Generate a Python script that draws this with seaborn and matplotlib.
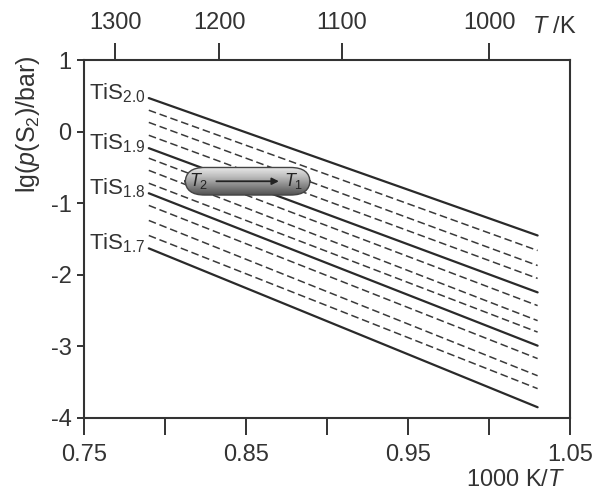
import numpy as np
import pandas as pd
import matplotlib
matplotlib.use("Agg")
import matplotlib.pyplot as plt
import seaborn as sns
from matplotlib.patches import FancyBboxPatch

# isobars (lg p(S2) at the two ends of each line)
x_ends = [0.79, 1.03]
compositions = ["2.0", "1.975", "1.95", "1.925", "1.9", "1.875", "1.85", "1.825",
                "1.8", "1.775", "1.75", "1.725", "1.7"]
y_left = [0.47, 0.30, 0.13, -0.05, -0.23, -0.37, -0.54, -0.72,
          -0.86, -1.03, -1.24, -1.45, -1.63]
y_right = [-1.45, -1.66, -1.87, -2.05, -2.245, -2.43, -2.64, -2.80,
           -2.99, -3.17, -3.41, -3.59, -3.85]
labelled = ["2.0", "1.9", "1.8", "1.7"]

x_ticks = [0.75, 0.80, 0.85, 0.90, 0.95, 1.00, 1.05]
x_ticklabels = ["0.75", "", "0.85", "", "0.95", "", "1.05"]
y_ticks = [1, 0, -1, -2, -3, -4]
T_ticks = [1300, 1200, 1100, 1000]

sns.set_theme(style="ticks")
plt.rcParams['font.family'] = ['Liberation Sans', 'DejaVu Sans']
plt.rcParams['mathtext.fontset'] = 'custom'
plt.rcParams['mathtext.rm'] = 'Liberation Sans'
plt.rcParams['mathtext.it'] = 'Liberation Sans:italic'
txt = '#333333'
plt.rcParams['text.color'] = txt
plt.rcParams['axes.labelcolor'] = txt
plt.rcParams['xtick.color'] = txt
plt.rcParams['ytick.color'] = txt

fig = plt.figure(figsize=(5.97, 4.97), dpi=100)
ax = fig.add_axes([0.1407, 0.159, 0.8141, 0.720])

rows = []
for c, yl, yr in zip(compositions, y_left, y_right):
    rows.append({"comp": c, "x": x_ends[0], "y": yl})
    rows.append({"comp": c, "x": x_ends[1], "y": yr})
df = pd.DataFrame(rows)

for c in compositions:
    sub = df[df["comp"] == c]
    if c in labelled:
        sns.lineplot(data=sub, x="x", y="y", ax=ax, color='#2a2a2a', lw=1.6)
        ax.text(x_ends[0] - 0.002, sub["y"].iloc[0] + 0.07, r'TiS$_{%s}$' % c,
                ha='right', va='center', fontsize=16, color=txt)
    else:
        sns.lineplot(data=sub, x="x", y="y", ax=ax, color='#3a3a3a', lw=1.1,
                     linestyle=(0, (5, 2.5)))

ax.set_xlim(0.75, 1.05)
ax.set_ylim(-4, 1)
ax.set_xticks(x_ticks)
ax.set_xticklabels(x_ticklabels)
ax.set_yticks(y_ticks)
ax.set_yticklabels([str(v) for v in y_ticks])
ax.tick_params(axis='x', direction='out', length=12, width=1.4, labelsize=17, pad=7)
ax.tick_params(axis='y', direction='out', length=5, width=1.4, labelsize=17, pad=4)
ax.set_xlabel("")
ax.set_ylabel(r'lg($p$(S$_2$)/bar)', fontsize=18)
ax.yaxis.set_label_coords(-0.087, 0.821)
for s in ax.spines.values():
    s.set_linewidth(1.5)
    s.set_color('#333333')
    s.set_visible(True)

ax2 = ax.twiny()
ax2.set_xlim(ax.get_xlim())
ax2.set_xticks([1000 / t for t in T_ticks])
ax2.set_xticklabels([str(t) for t in T_ticks])
ax2.tick_params(axis='x', direction='out', length=12, width=1.4, labelsize=17, pad=7)
for s in ax2.spines.values():
    s.set_visible(False)

fig.text(0.966, 0.945, r'$T$ /K', fontsize=17, ha='right', va='center', color=txt)
fig.text(0.947, 0.035, r'1000 K/$T$', fontsize=17, ha='right', va='center', color=txt)

# capsule with T2 -> T1
bx0, bx1, by0, by1 = 0.8125, 0.8895, -0.885, -0.50
pill = FancyBboxPatch((bx0, by0), bx1 - bx0, by1 - by0,
                      boxstyle="round,pad=0,rounding_size=0.012",
                      mutation_aspect=(by1 - by0) / 0.02 / 1.1,
                      facecolor='none', edgecolor='#444444', lw=1.0, zorder=5)
ax.add_patch(pill)
grad = np.concatenate([np.linspace(0.92, 0.76, 30), np.linspace(0.76, 0.32, 70)])[:, None]
im = ax.imshow(grad, cmap='gray', vmin=0, vmax=1, aspect='auto',
               extent=(bx0, bx1, by0, by1), origin='upper', zorder=4)
im.set_clip_path(pill)
ax.set_xlim(0.75, 1.05)
ax.set_ylim(-4, 1)
ym = (by0 + by1) / 2
ax.annotate("", xy=(0.872, ym), xytext=(0.830, ym),
            arrowprops=dict(arrowstyle='-|>', color='#222222', lw=1.3, mutation_scale=10),
            zorder=6)
ax.text(0.8205, ym, r'$T_2$', fontsize=13, ha='center', va='center', color='#222222', zorder=6)
ax.text(0.8795, ym, r'$T_1$', fontsize=13, ha='center', va='center', color='#222222', zorder=6)

fig.savefig("out.png", dpi=100)
